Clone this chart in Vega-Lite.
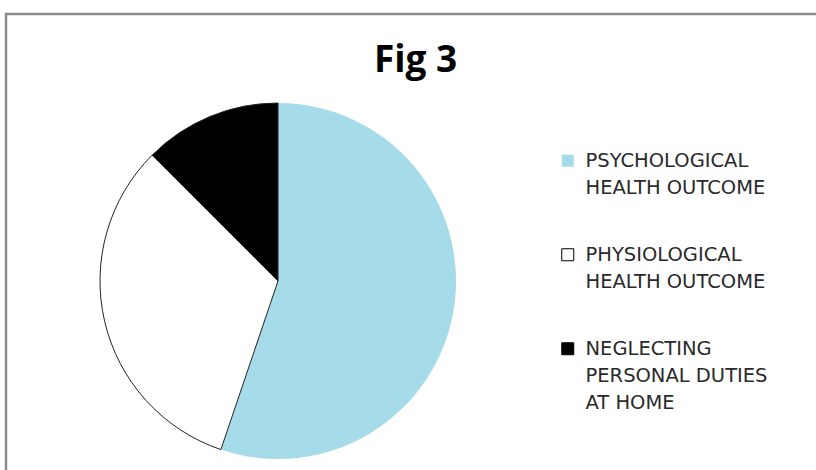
{
  "$schema": "https://vega.github.io/schema/vega-lite/v6.json",
  "width": 820,
  "height": 470,
  "autosize": {"type": "none"},
  "padding": {"left": 6, "top": 14, "right": 0, "bottom": 0},
  "background": "white",
  "view": {"stroke": "#8c8c8c", "strokeWidth": 2.5, "fill": null},
  "config": {
    "font": "Open Sans"
  },
  "title": {
    "text": "Fig 3",
    "font": "Open Sans",
    "fontSize": 37,
    "fontWeight": "bold",
    "color": "#000000",
    "anchor": "start",
    "baseline": "alphabetic",
    "offset": -58,
    "dx": 368,
    "dy": 37
  },
  "data": {
    "values": [
      {"category": "PSYCHOLOGICAL HEALTH OUTCOME", "value": 55.2, "order": 1},
      {"category": "PHYSIOLOGICAL HEALTH OUTCOME", "value": 32.3, "order": 2},
      {"category": "NEGLECTING PERSONAL DUTIES AT HOME", "value": 12.5, "order": 3}
    ]
  },
  "mark": {"type": "arc", "radius": 178, "x": 272, "y": 267, "strokeWidth": 1},
  "encoding": {
    "theta": {"field": "value", "type": "quantitative", "stack": true},
    "order": {"field": "order", "type": "quantitative"},
    "color": {
      "field": "category",
      "type": "nominal",
      "scale": {
        "domain": ["PSYCHOLOGICAL HEALTH OUTCOME", "PHYSIOLOGICAL HEALTH OUTCOME", "NEGLECTING PERSONAL DUTIES AT HOME"],
        "range": ["#a6dbe9", "#ffffff", "#000000"]
      },
      "legend": {
        "title": null,
        "orient": "none",
        "legendX": 552,
        "legendY": 137,
        "symbolType": "square",
        "symbolSize": 144,
        "symbolStrokeColor": "#000000",
        "symbolStrokeWidth": 1,
        "labelFont": "DejaVu Sans",
        "labelFontSize": 19.5,
        "labelColor": "#2a2a2a",
        "labelLimit": 300,
        "labelOffset": 8,
        "rowPadding": 46,
        "labelExpr": "datum.label === 'NEGLECTING PERSONAL DUTIES AT HOME' ? ['NEGLECTING', 'PERSONAL DUTIES', 'AT HOME'] : [slice(datum.label, 0, indexof(datum.label, ' ')), slice(datum.label, indexof(datum.label, ' ') + 1)]",
        "encode": {
          "labels": {"update": {"lineHeight": {"value": 27}}},
          "symbols": {"update": {"stroke": {"signal": "datum.value === 'PSYCHOLOGICAL HEALTH OUTCOME' ? 'transparent' : '#000000'"}}}
        }
      }
    },
    "stroke": {
      "condition": {"test": "datum.order === 1", "value": null},
      "value": "#222222"
    }
  }
}
